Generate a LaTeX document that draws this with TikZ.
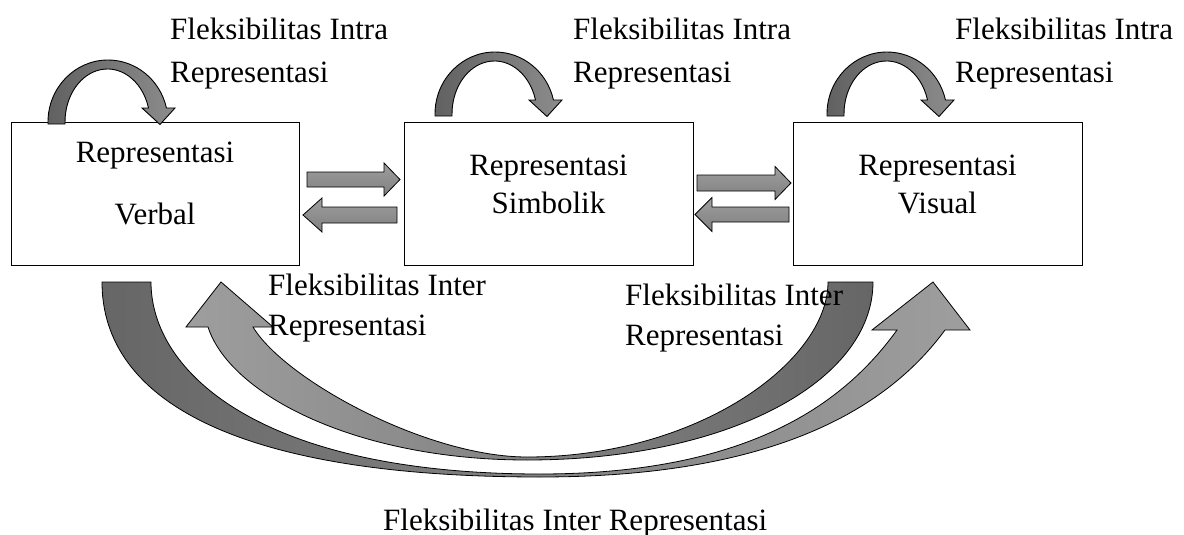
\documentclass[tikz,border=0pt]{standalone}
\usepackage{fontspec}
\setmainfont{Liberation Serif}
\usetikzlibrary{calc}

% straight block arrow: tail x, tip x, centre y, shaft half-width, head half-width, head length (signed)
\newcommand{\blockarr}[6]{%
  \path[blockarrow] ({#1},{#3-#4}) -- ({#2-(#6)},{#3-#4}) -- ({#2-(#6)},{#3-#5})
    -- ({#2},{#3}) -- ({#2-(#6)},{#3+#5}) -- ({#2-(#6)},{#3+#4})
    -- ({#1},{#3+#4}) -- cycle;}

% curved arrow looping back onto a box (intra representation)
\newcommand{\intraloop}[1]{%
  \begin{scope}[shift={#1}]
    \path[loopfill] (48,124) -- (48,122)
      arc[start angle=180, end angle=13.07, x radius=60pt, y radius=62pt]
      -- (175,108) -- (160,124.5) -- (142,108) -- (148.5,108)
      arc[start angle=15.3, end angle=180, x radius=42.5pt, y radius=53pt]
      -- (65,124) -- cycle;
  \end{scope}}

\begin{document}
\begin{tikzpicture}[x=1pt,y=-1pt,
  txt/.style={inner sep=0pt, font=\fontsize{31}{42}\selectfont},
  lbl/.style={txt, anchor=base west},
  boxtxt/.style={txt, anchor=base},
  box/.style={draw=black, line width=1pt, fill=white, rectangle, inner sep=0pt,
              minimum height=143pt},
  blockarrow/.style={draw=black, line width=0.8pt, top color=black!38, bottom color=black!50},
  loopfill/.style={draw=black, line width=0.9pt, left color=black!62, right color=black!45},
  bandA/.style={draw=black, line width=0.8pt, left color=black!60, right color=black!38},
  bandB/.style={draw=black, line width=0.8pt, left color=black!38, right color=black!60},
]
\useasboundingbox (0,0) rectangle (1184,535);

% representation boxes
\node[box, minimum width=288pt] (verbal) at (155,193.5) {};
\node[box, minimum width=289pt] (simbolik) at (548.5,193.5) {};
\node[box, minimum width=289pt] (visual) at (937.5,193.5) {};

\node[boxtxt] (verbal1) at (155,162) {Representasi};
\node[boxtxt] (verbal2) at (155,224) {Verbal};
\node[boxtxt] (simbolik1) at (548.5,175) {Representasi};
\node[boxtxt] (simbolik2) at (548.5,213) {Simbolik};
\node[boxtxt] (visual1) at (937.5,175) {Representasi};
\node[boxtxt] (visual2) at (937.5,213) {Visual};

% arrows between neighbouring boxes
\blockarr{307}{400}{179.5}{7.5}{16.5}{16}
\blockarr{397}{303}{215}{8}{17}{-19}
\blockarr{697}{791}{183}{8}{16.5}{16}
\blockarr{789}{695}{214.5}{7.5}{17}{-17}

% loops above each box
\intraloop{(0,0)}
\intraloop{(387,-8)}
\intraloop{(779,-8)}

% long curved arrow: verbal -> visual
\path[bandA] (102,282) .. controls (102,402) and (240,477) .. (540,477)
  .. controls (780,477) and (890,405) .. (945,330)
  -- (970,330) -- (933,282) -- (872,330) -- (897,330)
  .. controls (850,395) and (760,474) .. (540,474)
  .. controls (260,474) and (151,372) .. (151,282) -- cycle;

% long curved arrow: visual -> verbal
\path[bandB] (873,282) .. controls (873,382) and (727,460) .. (527,460)
  .. controls (357,460) and (230,395) .. (208,327)
  -- (186,327) -- (221,282) -- (273,327) -- (253,327)
  .. controls (285,380) and (427,457) .. (527,457)
  .. controls (697,457) and (828,362) .. (828,282) -- cycle;

% labels
\node[lbl] (intra1a) at (170,40) {Fleksibilitas Intra};
\node[lbl] (intra1b) at (170,82) {Representasi};
\node[lbl] (intra2a) at (573,40) {Fleksibilitas Intra};
\node[lbl] (intra2b) at (573,82) {Representasi};
\node[lbl] (intra3a) at (955,40) {Fleksibilitas Intra};
\node[lbl] (intra3b) at (955,82) {Representasi};
\node[lbl] (inter1a) at (268,295) {Fleksibilitas Inter};
\node[lbl] (inter1b) at (268,335) {Representasi};
\node[lbl] (inter2a) at (625,305) {Fleksibilitas Inter};
\node[lbl] (inter2b) at (625,345) {Representasi};
\node[lbl] (inter3) at (383,530) {Fleksibilitas Inter Representasi};
\end{tikzpicture}
\end{document}
